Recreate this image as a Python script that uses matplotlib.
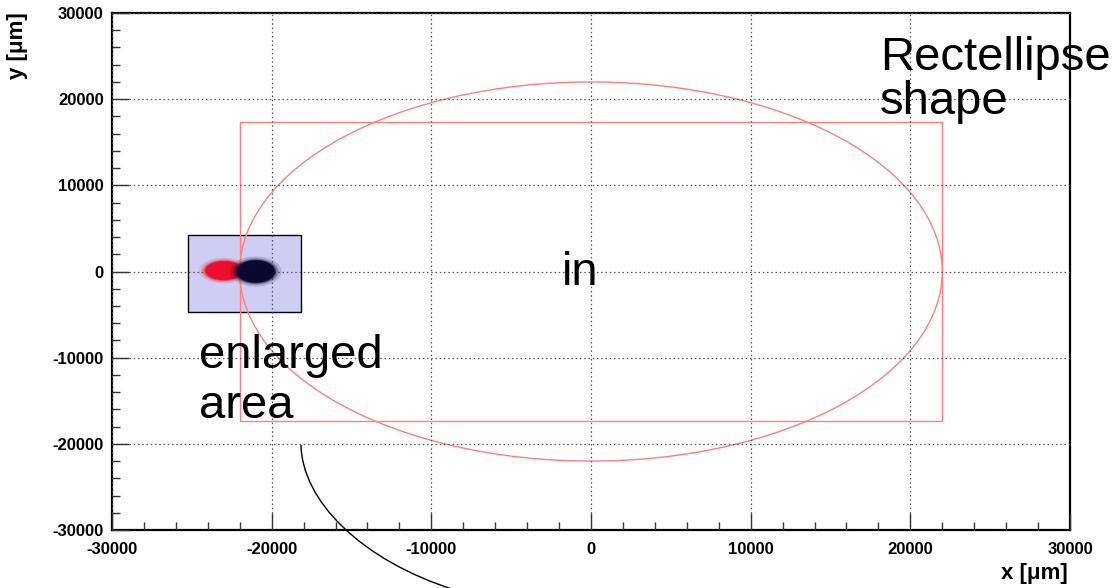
import matplotlib
matplotlib.use("Agg")
import matplotlib.pyplot as plt
from matplotlib.patches import Ellipse, Rectangle, PathPatch
from matplotlib.path import Path
from matplotlib.ticker import MultipleLocator, FixedLocator

# ---- data ----
x_ticks = [-30000, -20000, -10000, 0, 10000, 20000, 30000]
y_ticks = [-30000, -20000, -10000, 0, 10000, 20000, 30000]
x_tick_labels = ["-30000", "-20000", "-10000", "0", "10000", "20000", "30000"]
y_tick_labels = ["-30000", "-20000", "-10000", "0", "10000", "20000", "30000"]

ellipse_center = (0, 0)
ellipse_semi_axes = (22000, 22000)
rect_half_x = 22000
rect_half_y = 17300

inset_x = (-25250, -18150)
inset_y = (-4650, 4200)

# beam blobs: center x, center y, width, height
red_blob = (-23000, 100, 2300, 2200)
dark_blob = (-21000, 0, 2400, 2600)

W, H = 1115, 588
fig = plt.figure(figsize=(W / 100, H / 100), dpi=100)
L, R, T, B = 112, 1070, 13, 530
ax = fig.add_axes([L / W, 1 - B / H, (R - L) / W, (B - T) / H])
ax.set_xlim(-30000, 30000)
ax.set_ylim(-30000, 30000)

red = "#ff8080"
# inset box
ax.add_patch(Rectangle((inset_x[0], inset_y[0]), inset_x[1] - inset_x[0], inset_y[1] - inset_y[0],
                       facecolor="#cfcdf3", edgecolor="black", lw=1.0, zorder=1))
# rect-ellipse shapes
ax.add_patch(Ellipse(ellipse_center, 2 * ellipse_semi_axes[0], 2 * ellipse_semi_axes[1],
                     fill=False, edgecolor=red, lw=1.0, zorder=2))
ax.add_patch(Rectangle((-rect_half_x, -rect_half_y), 2 * rect_half_x, 2 * rect_half_y,
                       fill=False, edgecolor=red, lw=1.0, zorder=2))

# blobs drawn as fuzzy ellipses
for (cx, cy, w, h), col in [(red_blob, "#e8102a"), (dark_blob, "#0a0830")]:
    for s, a in [(1.35, 0.15), (1.18, 0.3), (1.07, 0.55), (1.0, 1.0)]:
        ax.add_patch(Ellipse((cx, cy), w * s, h * s, facecolor=col, edgecolor="none",
                             alpha=a, zorder=3))

# grid
ax.xaxis.set_major_locator(FixedLocator(x_ticks))
ax.yaxis.set_major_locator(FixedLocator(y_ticks))
ax.xaxis.set_minor_locator(MultipleLocator(2000))
ax.yaxis.set_minor_locator(MultipleLocator(2000))
ax.grid(True, which="major", color="#555555", linestyle=(0, (1.2, 2.2)), lw=0.9, zorder=4)
ax.set_axisbelow(False)

ax.set_xticklabels(x_tick_labels)
ax.set_yticklabels(y_tick_labels)
ax.tick_params(which="both", direction="in", top=False, right=False, width=1.0, color="#333333")
ax.tick_params(which="major", length=12, pad=9)
ax.tick_params(which="minor", length=6)
for lab in ax.get_xticklabels() + ax.get_yticklabels():
    lab.set_fontfamily("Liberation Sans")
    lab.set_fontweight("bold")
    lab.set_fontsize(12)
ax.tick_params(axis="y", pad=6)
for sp in ax.spines.values():
    sp.set_linewidth(1.6)

fig.text(1068 / W, 1 - 574 / H, "x [μm]", ha="right", va="center",
         fontfamily="Liberation Sans", fontweight="bold", fontsize=16)
fig.text(17 / W, 1 - 12 / H, "y [μm]", ha="center", va="top", rotation=90,
         fontfamily="Liberation Sans", fontweight="bold", fontsize=16)

# annotations
txt = dict(fontfamily="Liberation Sans", fontsize=34, color="black")
fig.text(880 / W, 1 - 36 / H, "Rectellipse\nshape", ha="left", va="top", linespacing=1.0, **txt)
fig.text(580 / W, 1 - 273 / H, "in", ha="center", va="center", **txt)
fig.text(199 / W, 1 - 334 / H, "enlarged\narea", ha="left", va="top", linespacing=1.19, **txt)

# connecting curve (figure pixel coordinates)
pts = [(301, 445), (302, 500), (360, 560), (455, 590)]
verts = [(px / W, 1 - py / H) for px, py in pts]
path = Path(verts, [Path.MOVETO, Path.CURVE4, Path.CURVE4, Path.CURVE4])
fig.patches.append(PathPatch(path, transform=fig.transFigure, fill=False,
                             edgecolor="black", lw=1.0))

fig.savefig("out.png", dpi=100)
